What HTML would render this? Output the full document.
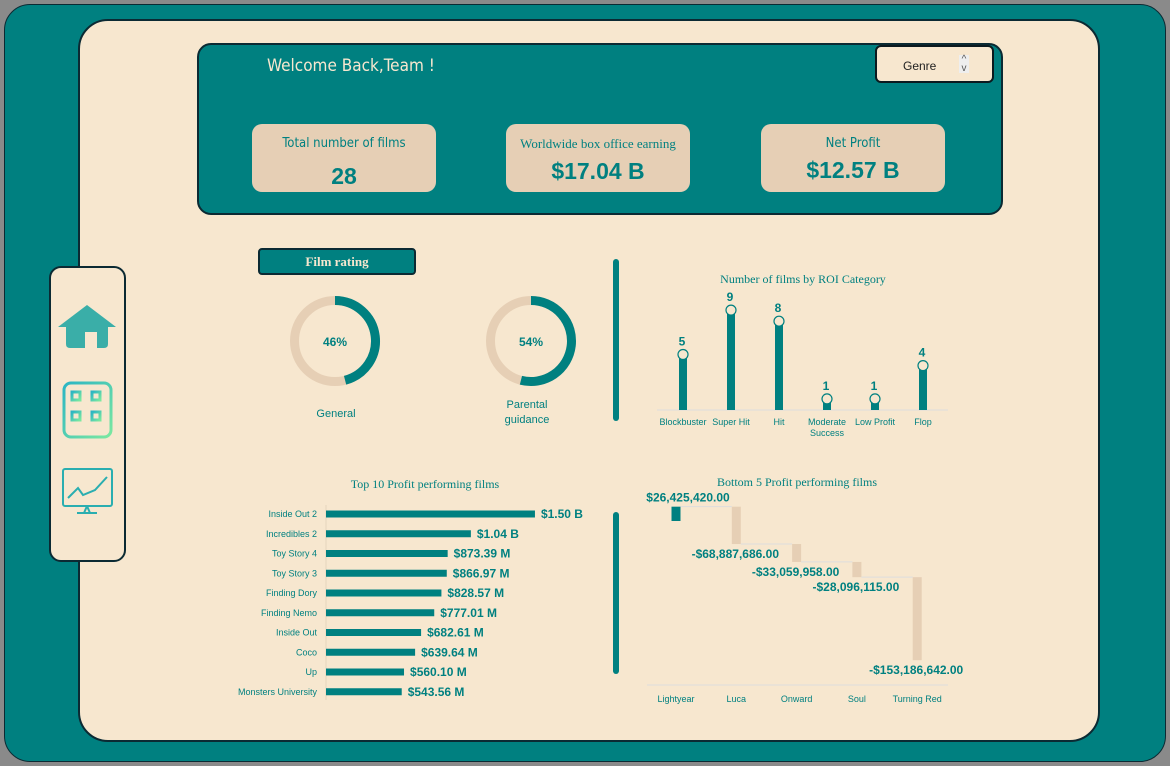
<!DOCTYPE html>
<html><head><meta charset="utf-8"><style>
body{margin:0;width:1170px;height:766px;background:#8a8a8a;font-family:"Liberation Sans",sans-serif;overflow:hidden}
.abs{position:absolute;box-sizing:border-box}
</style></head><body>
<div class="abs" style="left:4px;top:4px;width:1162px;height:758px;background:#008080;border:1px solid #0b2a33;border-radius:26px"></div>
<div class="abs" style="left:78px;top:19px;width:1022px;height:723px;background:#F7E7CF;border:2px solid #0b2a33;border-radius:30px"></div>
<div class="abs" style="left:197px;top:43px;width:806px;height:172px;background:#008080;border:2px solid #0b2a33;border-radius:14px"></div>
<div class="abs" style="left:267px;top:56px;color:#F7E7CF;font-size:17px;font-family:'DejaVu Sans Condensed','Liberation Sans',sans-serif">Welcome Back,Team !</div>
<div class="abs" style="left:875px;top:45px;width:119px;height:38px;background:#F7E7CF;border:2px solid #0b1a1f;border-radius:6px;font-size:12px;color:#222">
 <span style="position:absolute;left:26px;top:12px">Genre</span>
 <span style="position:absolute;left:82px;top:8px;font-size:10px;line-height:9px;color:#555;background:#eee;width:10px;text-align:center">^<br>v</span></div>
<div class="abs" style="left:252px;top:124px;width:184px;height:68px;background:#E6CFB5;border-radius:10px;text-align:center;color:#008080">
 <div style="margin-top:12px;font-size:13px;font-family:'DejaVu Sans Condensed',sans-serif">Total number of films</div>
 <div style="margin-top:12px;font-size:23px;font-weight:bold">28</div></div>
<div class="abs" style="left:506px;top:124px;width:184px;height:68px;background:#E6CFB5;border-radius:10px;text-align:center;color:#008080">
 <div style="margin-top:12px;font-size:13px;font-family:'Liberation Serif',serif">Worldwide box office earning</div>
 <div style="margin-top:6px;font-size:23px;font-weight:bold">$17.04 B</div></div>
<div class="abs" style="left:761px;top:124px;width:184px;height:68px;background:#E6CFB5;border-radius:10px;text-align:center;color:#008080">
 <div style="margin-top:12px;font-size:13px;font-family:'DejaVu Sans Condensed',sans-serif">Net Profit</div>
 <div style="margin-top:6px;font-size:23px;font-weight:bold">$12.57 B</div></div>

<div class="abs" style="left:49px;top:266px;width:77px;height:296px;background:#F7E7CF;border:2px solid #0b2a33;border-radius:12px"></div>
<svg class="abs" style="left:0;top:0" width="1170" height="766">
 <defs><linearGradient id="g" x1="0" y1="0" x2="1" y2="1"><stop offset="0" stop-color="#2bb5c4"/><stop offset="1" stop-color="#7be8a0"/></linearGradient></defs>
 <g fill="#3aaea8"><path d="M58 327 L87 305 L116 327 L108 327 L108 344 Q108 348 104 348 L97 348 L97 332 L85 332 L85 348 L70 348 Q66 348 66 344 L66 327 Z"/></g>
 <g fill="none" stroke="url(#g)" stroke-width="3"><rect x="64" y="383" width="47" height="54" rx="7"/><rect x="72" y="392" width="8" height="8"/><rect x="92" y="392" width="8" height="8"/><rect x="72" y="412" width="8" height="8"/><rect x="92" y="412" width="8" height="8"/></g>
 <g fill="none" stroke="#2aaeb0" stroke-width="2"><rect x="63" y="469" width="49" height="37" rx="2"/><polyline points="68,498 78,488 83,495 95,490 107,477"/><line x1="87" y1="506" x2="84" y2="513"/><line x1="87" y1="506" x2="90" y2="513"/><line x1="77" y1="513" x2="97" y2="513"/></g>
</svg>

<div class="abs" style="left:258px;top:248px;width:158px;height:27px;background:#008080;border:2px solid #0b2a33;border-radius:4px;color:#F7E7CF;font-family:'Liberation Serif',serif;font-weight:bold;font-size:13px;text-align:center;line-height:23px">Film rating</div>
<div class="abs" style="left:613px;top:259px;width:6px;height:162px;background:#008080;border-radius:3px"></div>
<div class="abs" style="left:613px;top:512px;width:6px;height:162px;background:#008080;border-radius:3px"></div>

<svg id="main" class="abs" style="left:0;top:0" width="1170" height="766"></svg>
<script>
const ratingLabels=["General","Parental guidance"];
const ratingValues=[46,54];
const roiCategories=["Blockbuster","Super Hit","Hit","Moderate Success","Low Profit","Flop"];
const roiValues=[5,9,8,1,1,4];
const topFilms=["Inside Out 2","Incredibles 2","Toy Story 4","Toy Story 3","Finding Dory","Finding Nemo","Inside Out","Coco","Up","Monsters University"];
const topProfits=[1500,1040,873.39,866.97,828.57,777.01,682.61,639.64,560.10,543.56];
const topLabels=["$1.50 B","$1.04 B","$873.39 M","$866.97 M","$828.57 M","$777.01 M","$682.61 M","$639.64 M","$560.10 M","$543.56 M"];
const bottomFilms=["Lightyear","Luca","Onward","Soul","Turning Red"];
const bottomValues=[26425420,-68887686,-33059958,-28096115,-153186642];
const bottomLabels=["$26,425,420.00","-$68,887,686.00","-$33,059,958.00","-$28,096,115.00","-$153,186,642.00"];

const svg=document.getElementById('main');const NS="http://www.w3.org/2000/svg";
const T="#008080",TAN="#E6CFB5";
function mk(tag,attrs,name,txt){const e=document.createElementNS(NS,tag);for(const k in attrs)e.setAttribute(k,attrs[k]);


if(txt!==undefined)e.textContent=txt;svg.appendChild(e);return e;}
function text(x,y,s,opts,name){return mk('text',Object.assign({x:x,y:y,fill:T,'font-family':'Liberation Sans, sans-serif','font-size':10,'text-anchor':'middle'},opts),name,s);}

const donutX=[335,531];
ratingValues.forEach((v,i)=>{const cx=donutX[i],cy=341,r=40.5;
 mk('circle',{cx:cx,cy:cy,r:r,fill:'none',stroke:TAN,'stroke-width':9},'donut-track-'+i);
 const a=v/100*2*Math.PI;const x2=cx+r*Math.sin(a),y2=cy-r*Math.cos(a);
 mk('path',{d:`M${cx} ${cy-r} A${r} ${r} 0 ${v>50?1:0} 1 ${x2} ${y2}`,fill:'none',stroke:T,'stroke-width':9},'donut-arc-'+i);
 text(cx,cy+5,v+'%',{'font-size':12,'font-weight':'bold'},'donut-value-'+i);
});
text(336,417,"General",{'font-size':11},'donut-label-general');
text(527,408,"Parental",{'font-size':11},'donut-label-parental');
text(527,423,"guidance",{'font-size':11},'donut-label-guidance');

text(803,283,"Number of films by ROI Category",{'font-family':'Liberation Serif, serif','font-size':12},'roi-title');
const roiBase=410,roiScale=11.1;const roiX=i=>683+i*48;const roiY=v=>roiBase-v*roiScale;
mk('line',{x1:657,y1:roiBase,x2:948,y2:roiBase,stroke:'#ddd','stroke-width':1},'roi-axis');
roiValues.forEach((v,i)=>{const x=roiX(i),y=roiY(v);
 mk('rect',{x:x-4,y:y,width:8,height:roiBase-y,fill:T},'roi-bar-'+i);
 mk('circle',{cx:x,cy:y,r:5,fill:'#F7E7CF',stroke:T,'stroke-width':1.2},'roi-marker-'+i);
 text(x-1,y-9,v,{'font-size':12,'font-weight':'bold'},'roi-value-'+i);
 const parts=roiCategories[i]==="Moderate Success"?["Moderate","Success"]:[roiCategories[i]];
 parts.forEach((p,j)=>text(x,425+j*11,p,{'font-size':9},'roi-category-'+i));
});

text(425,488,"Top 10 Profit performing films",{'font-family':'Liberation Serif, serif','font-size':12},'top10-title');
const tx0=326,tScale=0.1393;const tY=i=>514+i*19.75;
mk('line',{x1:tx0,y1:505,x2:tx0,y2:700,stroke:'#e6d5bd'},'top10-axis');
topProfits.forEach((v,i)=>{const y=tY(i),w=v*tScale;
 mk('rect',{x:tx0,y:y-3.5,width:w,height:7,fill:T},'top10-bar-'+i);
 text(317,y+3,topFilms[i],{'font-size':9,'text-anchor':'end'},'top10-film-'+i);
 text(tx0+w+6,y+4,topLabels[i],{'font-size':12,'font-weight':'bold','text-anchor':'start'},'top10-value-'+i);
});

text(797,486,"Bottom 5 Profit performing films",{'font-family':'Liberation Serif, serif','font-size':12},'bottom5-title');
const wZero=521,wScale=0.542e-6;const wY=v=>wZero-v*wScale;const wX=i=>676+i*60.3;
mk('line',{x1:647,y1:685,x2:948,y2:685,stroke:'#ddd'},'bottom5-axis');
let cum=0;
bottomValues.forEach((v,i)=>{const start=cum;cum+=v;const x=wX(i);
 const y1=wY(Math.max(start,cum)),y2=wY(Math.min(start,cum));
 mk('rect',{x:x-4.5,y:y1,width:9,height:y2-y1,fill:i===0?T:TAN},'bottom5-bar-'+i);
 if(i<bottomValues.length-1)mk('line',{x1:x+4.5,y1:wY(cum),x2:wX(i+1)-4.5,y2:wY(cum),stroke:'#ddd'},'bottom5-connector-'+i);
 const ly=v>0?y1-5:y2+14;
 text(i===0?x+12:x-1,ly,bottomLabels[i],{'font-size':12,'font-weight':'bold'},'bottom5-value-'+i);
 text(x,702,bottomFilms[i],{'font-size':9},'bottom5-film-'+i);
});
</script>
</body></html>
